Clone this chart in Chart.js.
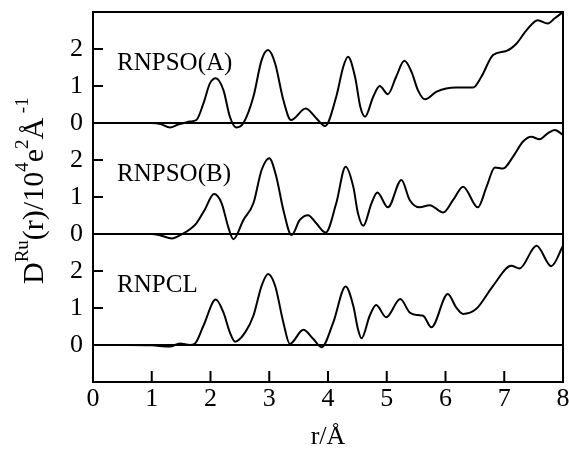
<!DOCTYPE html>
<html>
<head>
<meta charset="utf-8">
<script src="https://cdn.jsdelivr.net/npm/chart.js@4.4.1/dist/chart.umd.min.js"></script>
<style>
  html, body { margin: 0; padding: 0; background: #fff; }
  #wrap { width: 569px; height: 450px; }
</style>
</head>
<body>
<div id="wrap"><canvas id="rdfChart"></canvas></div>
<script>
// three D(r) curves stacked on one axis, each shifted up by its offset
const panelNames = ['RNPSO(A)', 'RNPSO(B)', 'RNPCL'];
const panelOffsets = [6, 3, 0];
const xTickValues = [0, 1, 2, 3, 4, 5, 6, 7, 8];
const yTickValues = [0, 1, 2, 3, 4, 5, 6, 7, 8];
const yTickLabels = ['0', '1', '2'];

const rA = [0, 0.5, 1.0, 1.15, 1.31, 1.45, 1.55, 1.65, 1.76, 1.88, 1.99, 2.09, 2.22, 2.33, 2.44, 2.56,
            2.73, 2.87, 2.98, 3.10, 3.24, 3.37, 3.62, 3.80, 3.95, 4.14, 4.26, 4.34, 4.46, 4.55, 4.63,
            4.77, 4.88, 5.02, 5.16, 5.30, 5.42, 5.53, 5.65, 5.85, 6.18, 6.47, 6.61, 6.81, 7.04, 7.21,
            7.38, 7.57, 7.74, 7.86, 8.0];
const dA = [0, 0, 0, -0.03, -0.12, -0.04, 0, 0.04, 0.08, 0.53, 1.07, 1.21, 0.89, 0.17, -0.12, 0,
            0.71, 1.70, 1.97, 1.61, 0.62, 0.08, 0.39, 0.13, -0.08, 0.71, 1.52, 1.79, 1.25, 0.44, 0.17,
            0.71, 1.00, 0.78, 1.25, 1.68, 1.39, 0.89, 0.64, 0.85, 0.96, 0.96, 1.25, 1.84, 1.95, 2.15,
            2.51, 2.78, 2.69, 2.83, 3.0];

const rB = [0, 0.5, 1.0, 1.15, 1.34, 1.54, 1.65, 1.76, 1.90, 2.06, 2.19, 2.30, 2.39, 2.56, 2.73, 2.87,
            3.00, 3.12, 3.24, 3.38, 3.52, 3.66, 3.80, 3.96, 4.14, 4.30, 4.43, 4.51, 4.60, 4.74, 4.84,
            5.02, 5.25, 5.39, 5.56, 5.73, 5.96, 6.13, 6.30, 6.55, 6.70, 6.84, 6.98, 7.15, 7.32, 7.46,
            7.60, 7.74, 7.86, 8.0];
const dB = [0, 0, 0, -0.04, -0.12, 0.02, 0.13, 0.29, 0.65, 1.08, 0.83, 0.20, -0.14, 0.38, 0.83, 1.73,
            2.05, 1.55, 0.65, -0.03, 0.38, 0.51, 0.29, 0.04, 0.83, 1.82, 1.28, 0.56, 0.22, 0.83, 1.12,
            0.72, 1.46, 0.92, 0.72, 0.78, 0.58, 0.92, 1.28, 0.72, 1.28, 1.80, 1.77, 2.09, 2.50, 2.63,
            2.56, 2.72, 2.81, 2.68];

const rC = [0, 0.6, 1.0, 1.31, 1.48, 1.65, 1.73, 1.88, 2.09, 2.22, 2.33, 2.42, 2.59, 2.73, 2.87, 2.98,
            3.10, 3.24, 3.35, 3.58, 3.75, 3.89, 4.09, 4.30, 4.43, 4.51, 4.57, 4.71, 4.82, 4.99, 5.23,
            5.39, 5.53, 5.62, 5.76, 6.04, 6.18, 6.30, 6.52, 6.81, 7.12, 7.26, 7.55, 7.80, 8.0];
const dC = [0, 0, -0.01, -0.04, 0.04, 0, 0.03, 0.52, 1.23, 0.88, 0.34, 0.09, 0.34, 0.79, 1.60, 1.92,
            1.60, 0.61, 0.03, 0.41, 0.16, -0.06, 0.61, 1.58, 1.06, 0.43, 0.18, 0.79, 1.08, 0.75, 1.24,
            0.88, 0.81, 0.79, 0.48, 1.38, 1.02, 0.84, 0.97, 1.60, 2.14, 2.07, 2.68, 2.13, 2.68];

const serif = '"Liberation Serif", "DejaVu Serif", serif';

function toPoints(rs, ds, offset) {
    return rs.map((r, i) => ({ x: r, y: ds[i] + offset }));
}

function curve(rs, ds, offset) {
    return {
        data: toPoints(rs, ds, offset),
        borderColor: '#000',
        borderWidth: 2,
        pointRadius: 0,
        fill: false,
        cubicInterpolationMode: 'monotone'
    };
}

// y title "D^Ru(r)/10^4 e^2 Å^-1", written bottom to top
const yTitleParts = [
    { t: 'D', sup: false },
    { t: 'Ru', sup: true },
    { t: '(r)/10', sup: false },
    { t: '4', sup: true },
    { t: 'e', sup: false },
    { t: '2', sup: true },
    { t: 'Å', sup: false },
    { t: ' -1', sup: true }
];

const decorPlugin = {
    id: 'decor',
    afterDraw(chart) {
        const { ctx, chartArea: a, scales: { x, y } } = chart;
        ctx.save();
        ctx.strokeStyle = '#000';
        ctx.lineWidth = 2;
        ctx.strokeRect(a.left, a.top, a.right - a.left, a.bottom - a.top);

        // tick marks point into the plot
        ctx.beginPath();
        x.ticks.forEach(t => {
            if (t.value > 0 && t.value < 8) {
                const px = x.getPixelForValue(t.value);
                ctx.moveTo(px, a.bottom);
                ctx.lineTo(px, a.bottom - 11);
            }
        });
        y.ticks.forEach(t => {
            if (t.value % 3 !== 0) {
                const py = y.getPixelForValue(t.value);
                ctx.moveTo(a.left, py);
                ctx.lineTo(a.left + 10, py);
            }
        });
        ctx.stroke();

        // sample names
        ctx.fillStyle = '#000';
        ctx.font = '25px ' + serif;
        ctx.textAlign = 'left';
        ctx.textBaseline = 'alphabetic';
        panelNames.forEach((name, i) => {
            ctx.fillText(name, x.getPixelForValue(0.41), y.getPixelForValue(panelOffsets[i] + 1.42));
        });

        // rotated y title with superscripts
        ctx.translate(43, 284);
        ctx.rotate(-Math.PI / 2);
        let cx = 0;
        yTitleParts.forEach(p => {
            ctx.font = (p.sup ? '19px ' : '30px ') + serif;
            ctx.fillText(p.t, cx, p.sup ? -15 : 0);
            cx += ctx.measureText(p.t).width;
        });
        ctx.restore();
    }
};

new Chart(document.getElementById('rdfChart'), {
    type: 'line',
    data: {
        datasets: [
            curve(rA, dA, panelOffsets[0]),
            curve(rB, dB, panelOffsets[1]),
            curve(rC, dC, panelOffsets[2])
        ]
    },
    options: {
        responsive: true,
        maintainAspectRatio: false,
        animation: false,
        layout: { padding: { left: 0, right: 6, top: 12, bottom: 0 } },
        plugins: { legend: { display: false }, tooltip: { enabled: false } },
        scales: {
            x: {
                type: 'linear',
                min: 0,
                max: 8,
                afterBuildTicks: scale => { scale.ticks = xTickValues.map(v => ({ value: v })); },
                afterFit: scale => {
                    scale.height = 68;
                    scale.paddingLeft = 0;
                    scale.paddingRight = 0;
                },
                grid: { display: false, drawTicks: false },
                border: { display: true, color: '#000', width: 2 },
                ticks: {
                    color: '#000',
                    padding: 2,
                    maxRotation: 0,
                    font: { family: serif, size: 26 }
                },
                title: {
                    display: true,
                    text: 'r/Å',
                    color: '#000',
                    padding: { top: 0, bottom: -3 },
                    font: { family: serif, size: 26 }
                }
            },
            y: {
                min: -1,
                max: 9,
                afterBuildTicks: scale => { scale.ticks = yTickValues.map(v => ({ value: v })); },
                afterFit: scale => {
                    scale.width = 93;
                    scale.paddingTop = 0;
                    scale.paddingBottom = 0;
                },
                grid: {
                    drawTicks: false,
                    lineWidth: 2,
                    color: c => (c.tick && c.tick.value % 3 === 0) ? '#000' : 'rgba(0,0,0,0)'
                },
                border: { display: true, color: '#000', width: 2 },
                ticks: {
                    color: '#000',
                    padding: 10,
                    font: { family: serif, size: 26 },
                    callback: v => yTickLabels[((v % 3) + 3) % 3]
                }
            }
        }
    },
    plugins: [decorPlugin]
});
</script>
</body>
</html>
